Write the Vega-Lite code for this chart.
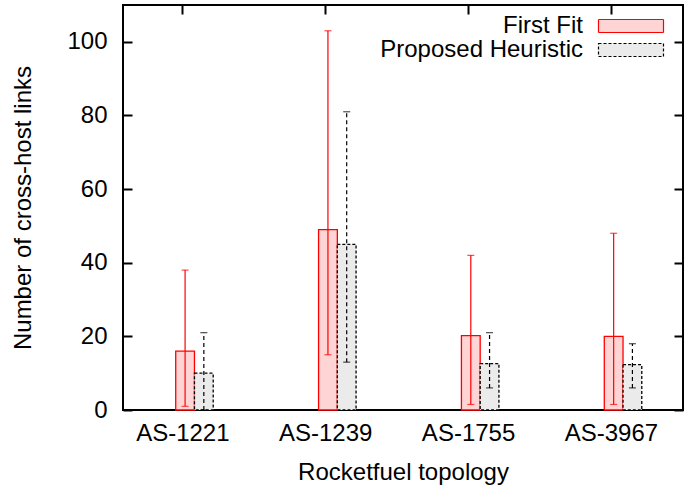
{
 "$schema": "https://vega.github.io/schema/vega-lite/v6.json",
 "width": 560,
 "height": 405,
 "autosize": {"type": "none"},
 "padding": {"left": 123, "top": 5, "right": 6, "bottom": 81},
 "config": {
  "view": {"stroke": "#000000", "strokeWidth": 2},
  "font": "Liberation Sans",
  "axis": {"grid": false, "domain": false, "labelColor": "#000000", "titleColor": "#000000", "labelFontSize": 24, "titleFontSize": 24, "titleFontWeight": "normal", "labelFont": "Liberation Sans", "titleFont": "Liberation Sans"}
 },
 "data": {"values": [
  {"topology": "AS-1221", "series": "First Fit", "value": 16, "low": 1, "high": 38},
  {"topology": "AS-1221", "series": "Proposed Heuristic", "value": 10, "low": 0, "high": 21},
  {"topology": "AS-1239", "series": "First Fit", "value": 49, "low": 15, "high": 103},
  {"topology": "AS-1239", "series": "Proposed Heuristic", "value": 45, "low": 13, "high": 81},
  {"topology": "AS-1755", "series": "First Fit", "value": 20.2, "low": 1.5, "high": 42},
  {"topology": "AS-1755", "series": "Proposed Heuristic", "value": 12.6, "low": 6, "high": 21},
  {"topology": "AS-3967", "series": "First Fit", "value": 20, "low": 1.5, "high": 48},
  {"topology": "AS-3967", "series": "Proposed Heuristic", "value": 12.3, "low": 6, "high": 18}
 ]},
 "encoding": {
  "x": {"field": "topology", "type": "nominal", "sort": null, "axis": null, "scale": {"type": "band", "paddingInner": 0.9, "paddingOuter": 0.41, "align": 0.45}},
  "xOffset": {"field": "series", "type": "nominal", "sort": null, "scale": {"range": [0, 37.5], "paddingInner": 0, "paddingOuter": 0}}
 },
 "layer": [
  {
   "mark": {"type": "bar", "strokeWidth": 1.3},
   "encoding": {
    "x": {"field": "topology", "type": "nominal", "sort": null, "axis": {"orient": "bottom", "title": "Rocketfuel topology", "labelAngle": 0, "ticks": false, "labelPadding": 11, "titlePadding": 15}},
    "y": {"field": "value", "type": "quantitative", "scale": {"domain": [0, 110], "nice": false}, "axis": {"orient": "left", "title": "Number of cross-host links", "values": [0, 20, 40, 60, 80, 100], "ticks": false, "labelPadding": 16, "titlePadding": 31}},
    "fill": {"field": "series", "type": "nominal", "sort": null, "scale": {"range": ["#ffd4d4", "#ebebeb"]},
     "legend": {"orient": "none", "legendX": 496, "legendY": 9, "title": null, "padding": 0, "symbolType": "M-5,-1H5V1H-5Z", "symbolSize": 169, "labelAlign": "right", "labelOffset": -60, "labelFontSize": 24, "labelFont": "Liberation Sans", "labelColor": "#000000", "rowPadding": 0, "symbolStrokeWidth": 1.2, "labelLimit": 400}},
    "stroke": {"field": "series", "type": "nominal", "sort": null, "scale": {"range": ["#ff0000", "#000000"]}},
    "strokeDash": {"field": "series", "type": "nominal", "sort": null, "scale": {"range": [[1, 0], [3, 2]]}}
   }
  },
  {
   "transform": [{"filter": "datum.series === 'First Fit'"}],
   "layer": [
    {"mark": {"type": "rule", "color": "#ff0000", "strokeWidth": 1.2}, "encoding": {"y": {"field": "low", "type": "quantitative", "axis": null}, "y2": {"field": "high"}}},
    {"mark": {"type": "tick", "color": "#ff0000", "size": 7, "thickness": 1.2}, "encoding": {"y": {"field": "high", "type": "quantitative", "axis": null}}},
    {"mark": {"type": "tick", "color": "#ff0000", "size": 7, "thickness": 1.2}, "encoding": {"y": {"field": "low", "type": "quantitative", "axis": null}}}
   ]
  },
  {
   "transform": [{"filter": "datum.series === 'Proposed Heuristic'"}],
   "layer": [
    {"mark": {"type": "rule", "color": "#000000", "strokeWidth": 1.2, "strokeDash": [4, 3]}, "encoding": {"y": {"field": "low", "type": "quantitative", "axis": null}, "y2": {"field": "high"}}},
    {"mark": {"type": "tick", "color": "#000000", "size": 7, "thickness": 1.2}, "encoding": {"y": {"field": "high", "type": "quantitative", "axis": null}}},
    {"mark": {"type": "tick", "color": "#000000", "size": 7, "thickness": 1.2}, "encoding": {"y": {"field": "low", "type": "quantitative", "axis": null}}}
   ]
  },
  {
   "mark": {"type": "bar", "opacity": 0},
   "encoding": {
    "x": {"field": "topology", "type": "nominal", "sort": null, "axis": {"orient": "bottom", "title": null, "labels": false, "offset": -405, "ticks": true, "tickSize": 9, "tickColor": "#000000", "tickWidth": 2}},
    "y": {"field": "value", "type": "quantitative", "axis": {"orient": "right", "title": null, "labels": false, "values": [0, 20, 40, 60, 80, 100], "offset": -560, "ticks": true, "tickSize": 9, "tickColor": "#000000", "tickWidth": 2}}
   }
  },
  {
   "mark": {"type": "bar", "opacity": 0},
   "encoding": {
    "y": {"field": "value", "type": "quantitative", "axis": {"orient": "left", "title": null, "labels": false, "values": [0, 20, 40, 60, 80, 100], "offset": -560, "ticks": true, "tickSize": 9, "tickColor": "#000000", "tickWidth": 2}}
   }
  }
 ],
 "resolve": {"axis": {"x": "independent", "y": "independent"}}
}
